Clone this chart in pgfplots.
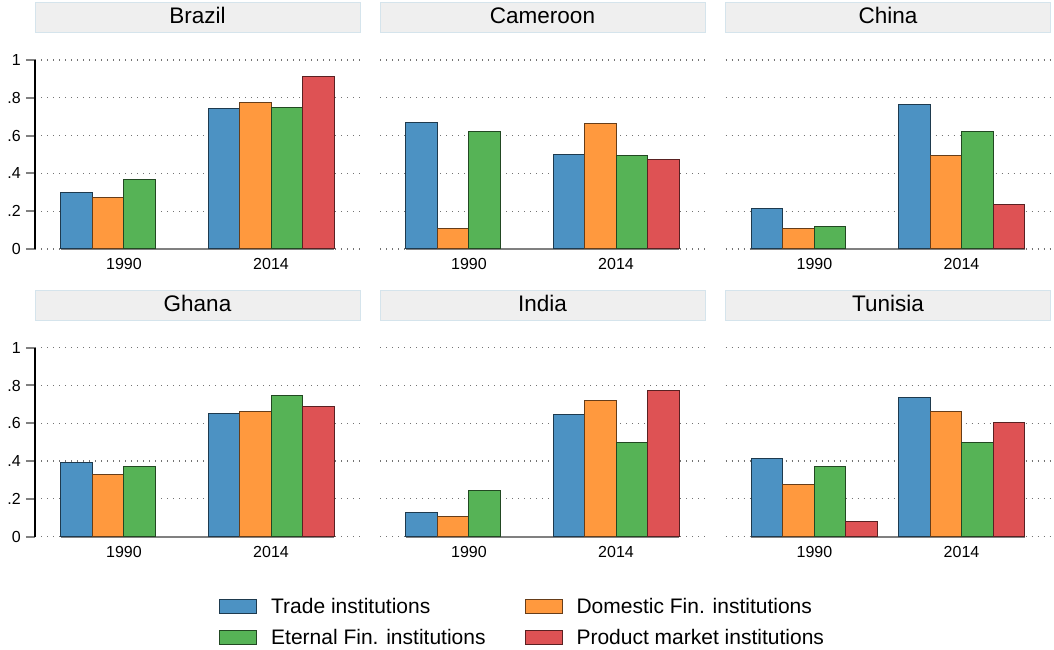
\documentclass[border=0pt]{standalone}
\usepackage{fontspec}
\setmainfont{Liberation Sans}
\usepackage{pgfplots}
\pgfplotsset{compat=1.18}
\definecolor{cBlue}{HTML}{4C92C3}
\definecolor{cOrange}{HTML}{FF993E}
\definecolor{cGreen}{HTML}{56B356}
\definecolor{cRed}{HTML}{DE5254}
\definecolor{titlefill}{HTML}{EFEFEF}
\definecolor{titleborder}{HTML}{D5E4EC}
\definecolor{basegray}{HTML}{808080}
\pgfplotsset{
  panel/.style={
    scale only axis, width=325bp, height=189bp,
    xmin=-0.605, xmax=1.605, ymin=0, ymax=1,
    axis lines*=left, axis line style={draw=none,-},
    xtick={0,1}, xticklabels={1990,2014},
    ytick={0,0.2,0.4,0.6,0.8,1},
    yticklabels={0,.2,.4,.6,.8,1},
    tick align=outside, major tick length=9bp,
    xtick style={draw=none},
    ytick style={draw=black!50, line width=2bp},
    ymajorgrids,
    grid style={black!55, line width=1.2bp, dash pattern=on 1.2bp off 4.8bp},
    tick label style={font=\fontsize{16bp}{18bp}\selectfont},
    xticklabel style={inner sep=0pt},
    yticklabel style={inner sep=0pt, xshift=-5bp},
    /pgf/number format/assume math mode=true,
    clip=false,
    title style={at={(0.5,1)}, anchor=south, yshift=21bp, fill=titlefill,
      draw=titleborder, line width=1bp, minimum width=325bp, minimum height=30bp,
      inner sep=0pt, text height=16bp, text depth=4bp,
      font=\fontsize{22.5bp}{26bp}\selectfont},
  },
  leftpanel/.style={panel, y axis line style={draw=black, line width=2bp}},
  otherpanel/.style={panel, yticklabels={}, ytick style={draw=none}},
  bars/.style={ybar, bar width=0.2143, bar shift=0pt, line width=1bp, forget plot},
  baseline/.style={basegray, line width=2bp, forget plot},
}
\begin{document}
\begin{tikzpicture}
\useasboundingbox (0,0) rectangle (1054bp,650bp);
% Brazil
\begin{axis}[leftpanel, at={(35bp,401bp)}, anchor=south west, title={Brazil}]
\addplot[baseline] coordinates {(-0.4286,0) (1.4286,0)};
\addplot[bars, fill=cBlue, draw=cBlue!40!black] coordinates {(-0.3214,0.300) (0.6786,0.742)};
\addplot[bars, fill=cOrange, draw=cOrange!40!black] coordinates {(-0.1071,0.273) (0.8929,0.774)};
\addplot[bars, fill=cGreen, draw=cGreen!40!black] coordinates {(0.1071,0.370) (1.1071,0.748)};
\addplot[bars, fill=cRed, draw=cRed!40!black] coordinates {(1.3214,0.914)};
\end{axis}
% Cameroon
\begin{axis}[otherpanel, at={(380bp,401bp)}, anchor=south west, title={Cameroon}]
\addplot[baseline] coordinates {(-0.4286,0) (1.4286,0)};
\addplot[bars, fill=cBlue, draw=cBlue!40!black] coordinates {(-0.3214,0.668) (0.6786,0.499)};
\addplot[bars, fill=cOrange, draw=cOrange!40!black] coordinates {(-0.1071,0.107) (0.8929,0.663)};
\addplot[bars, fill=cGreen, draw=cGreen!40!black] coordinates {(0.1071,0.621) (1.1071,0.496)};
\addplot[bars, fill=cRed, draw=cRed!40!black] coordinates {(1.3214,0.473)};
\end{axis}
% China
\begin{axis}[otherpanel, at={(725.5bp,401bp)}, anchor=south west, title={China}]
\addplot[baseline] coordinates {(-0.4286,0) (1.4286,0)};
\addplot[bars, fill=cBlue, draw=cBlue!40!black] coordinates {(-0.3214,0.212) (0.6786,0.764)};
\addplot[bars, fill=cOrange, draw=cOrange!40!black] coordinates {(-0.1071,0.107) (0.8929,0.497)};
\addplot[bars, fill=cGreen, draw=cGreen!40!black] coordinates {(0.1071,0.120) (1.1071,0.621)};
\addplot[bars, fill=cRed, draw=cRed!40!black] coordinates {(1.3214,0.234)};
\end{axis}
% Ghana
\begin{axis}[leftpanel, at={(35bp,113.3bp)}, anchor=south west, title={Ghana}]
\addplot[baseline] coordinates {(-0.4286,0) (1.4286,0)};
\addplot[bars, fill=cBlue, draw=cBlue!40!black] coordinates {(-0.3214,0.394) (0.6786,0.653)};
\addplot[bars, fill=cOrange, draw=cOrange!40!black] coordinates {(-0.1071,0.330) (0.8929,0.661)};
\addplot[bars, fill=cGreen, draw=cGreen!40!black] coordinates {(0.1071,0.372) (1.1071,0.746)};
\addplot[bars, fill=cRed, draw=cRed!40!black] coordinates {(1.3214,0.688)};
\end{axis}
% India (with legend)
\begin{axis}[otherpanel, at={(380bp,113.3bp)}, anchor=south west, title={India},
  legend columns=2, legend cell align=left,
  legend image code/.code={\draw[#1] (0bp,-7bp) rectangle (37bp,7bp);},
  legend style={at={(-0.4954,-0.3137)}, anchor=north west, draw=none, fill=none,
    inner sep=0pt, row sep=10bp,
    font=\fontsize{21bp}{24bp}\selectfont,
    /tikz/every odd column/.append style={column sep=12bp},
    /tikz/every even column/.append style={column sep=37bp}}]
\addplot[baseline] coordinates {(-0.4286,0) (1.4286,0)};
\addplot[bars, fill=cBlue, draw=cBlue!40!black] coordinates {(-0.3214,0.129) (0.6786,0.644)};
\addplot[bars, fill=cOrange, draw=cOrange!40!black] coordinates {(-0.1071,0.106) (0.8929,0.720)};
\addplot[bars, fill=cGreen, draw=cGreen!40!black] coordinates {(0.1071,0.245) (1.1071,0.497)};
\addplot[bars, fill=cRed, draw=cRed!40!black] coordinates {(1.3214,0.772)};
\addlegendimage{fill=cBlue, draw=cBlue!40!black, line width=1bp}
\addlegendentry{Trade institutions}
\addlegendimage{fill=cOrange, draw=cOrange!40!black, line width=1bp}
\addlegendentry{Domestic Fin. institutions}
\addlegendimage{fill=cGreen, draw=cGreen!40!black, line width=1bp}
\addlegendentry{Eternal Fin. institutions}
\addlegendimage{fill=cRed, draw=cRed!40!black, line width=1bp}
\addlegendentry{Product market institutions}
\end{axis}
% Tunisia
\begin{axis}[otherpanel, at={(725.5bp,113.3bp)}, anchor=south west, title={Tunisia}]
\addplot[baseline] coordinates {(-0.4286,0) (1.4286,0)};
\addplot[bars, fill=cBlue, draw=cBlue!40!black] coordinates {(-0.3214,0.413) (0.6786,0.738)};
\addplot[bars, fill=cOrange, draw=cOrange!40!black] coordinates {(-0.1071,0.275) (0.8929,0.661)};
\addplot[bars, fill=cGreen, draw=cGreen!40!black] coordinates {(0.1071,0.370) (1.1071,0.497)};
\addplot[bars, fill=cRed, draw=cRed!40!black] coordinates {(0.3214,0.079) (1.3214,0.603)};
\end{axis}
\end{tikzpicture}
\end{document}
